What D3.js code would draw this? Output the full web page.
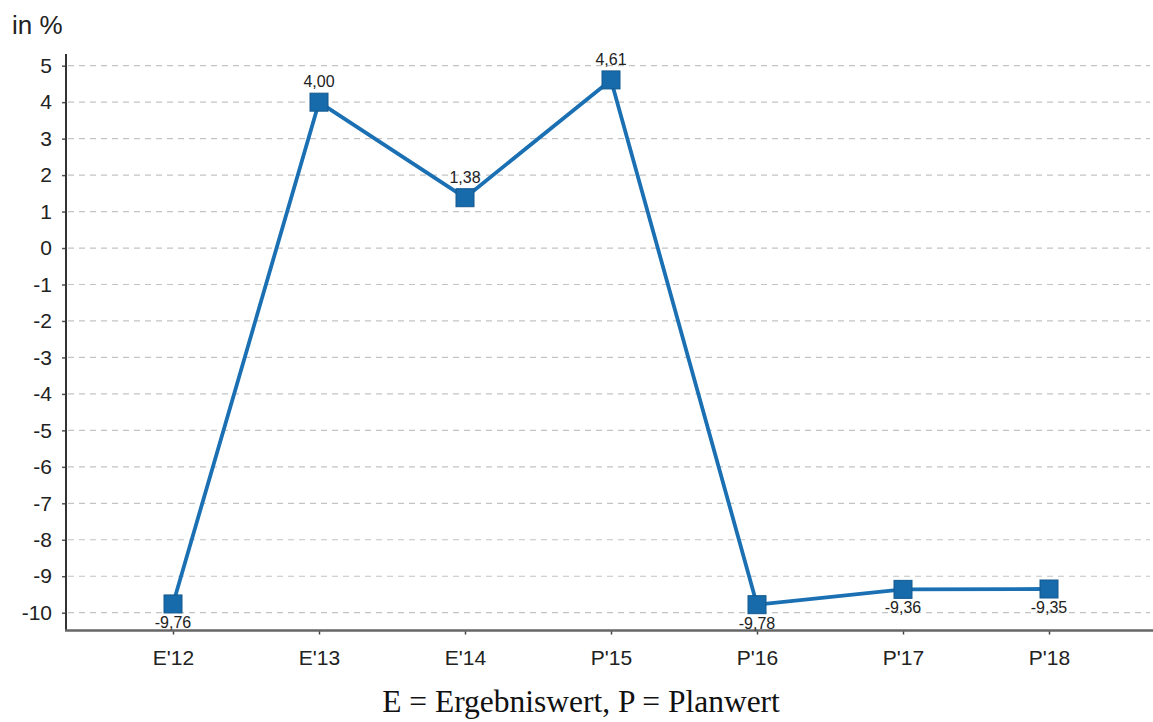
<!DOCTYPE html>
<html>
<head>
<meta charset="utf-8">
<script src="https://cdn.jsdelivr.net/npm/d3@7"></script>
<style>
  html, body { margin: 0; padding: 0; background: #fff; }
  svg { display: block; }
</style>
</head>
<body>
<svg id="chart" width="1153" height="722"></svg>
<script>
// Jahreswerte (E = Ergebniswert, P = Planwert)
const categories = ["E'12", "E'13", "E'14", "P'15", "P'16", "P'17", "P'18"];
const values = [-9.76, 4.00, 1.38, 4.61, -9.78, -9.36, -9.35];
const yTicks = [5, 4, 3, 2, 1, 0, -1, -2, -3, -4, -5, -6, -7, -8, -9, -10];
const yUnit = "in %";
const caption = "E = Ergebniswert, P = Planwert";

const svg = d3.select("#chart");
const axisLeft = 66, axisRight = 1150;
const axisBottomY = 630.5, axisTopY = 54;

const x = d3.scalePoint()
  .domain(categories)
  .range([100, 1122])
  .padding(0.5);

const y = d3.scaleLinear()
  .domain([-10, 5])
  .range([612.7, 65.7]);

// German number format with plain hyphen as minus sign
const fmt = v => d3.format(".2f")(v).replace(".", ",").replace("\u2212", "-");

// horizontal dashed gridlines
svg.append("g")
  .selectAll("line")
  .data(yTicks)
  .join("line")
  .attr("x1", axisLeft + 2).attr("x2", axisRight)
  .attr("y1", d => y(d)).attr("y2", d => y(d))
  .attr("stroke", "#c4c4c4")
  .attr("stroke-width", 1.2)
  .attr("stroke-dasharray", "6,5");

// y axis
const gy = svg.append("g").attr("transform", `translate(${axisLeft},0)`)
  .call(d3.axisLeft(y).tickValues(yTicks).tickSize(4).tickPadding(10)
    .tickFormat(d => String(d)));
gy.select(".domain").remove();
gy.selectAll(".tick line").attr("stroke", "#555").attr("stroke-width", 1.5);
gy.selectAll(".tick text")
  .attr("font-family", "Liberation Sans, Arial, sans-serif")
  .attr("font-size", 21)
  .attr("fill", "#222");
svg.append("line")
  .attr("x1", axisLeft).attr("x2", axisLeft)
  .attr("y1", axisTopY).attr("y2", axisBottomY)
  .attr("stroke", "#333").attr("stroke-width", 2);

// x axis
const gx = svg.append("g").attr("transform", `translate(0,${axisBottomY})`)
  .call(d3.axisBottom(x).tickSize(4).tickPadding(16));
gx.select(".domain").remove();
gx.selectAll(".tick line").attr("stroke", "#444").attr("stroke-width", 1.5);
gx.selectAll(".tick text")
  .attr("font-family", "Liberation Sans, Arial, sans-serif")
  .attr("font-size", 21)
  .attr("fill", "#222");
svg.append("line")
  .attr("x1", axisLeft - 1).attr("x2", axisRight + 3)
  .attr("y1", axisBottomY).attr("y2", axisBottomY)
  .attr("stroke", "#666").attr("stroke-width", 2.5);

// series line
const pts = categories.map((c, i) => ({ c, v: values[i] }));
svg.append("path")
  .datum(pts)
  .attr("fill", "none")
  .attr("stroke", "#1a70b2")
  .attr("stroke-width", 3.8)
  .attr("stroke-linejoin", "round")
  .attr("d", d3.line().x(d => x(d.c)).y(d => y(d.v)));

// square markers
svg.append("g")
  .selectAll("rect")
  .data(pts)
  .join("rect")
  .attr("x", d => x(d.c) - 9)
  .attr("y", d => y(d.v) - 9)
  .attr("width", 18).attr("height", 18)
  .attr("fill", "#176bab")
  .attr("stroke", "#12598f")
  .attr("stroke-width", 1);

// value labels
svg.append("g")
  .selectAll("text")
  .data(pts)
  .join("text")
  .attr("x", d => x(d.c))
  .attr("y", d => d.v >= 0 ? y(d.v) - 15 : y(d.v) + 24)
  .attr("text-anchor", "middle")
  .attr("font-family", "Liberation Sans, Arial, sans-serif")
  .attr("font-size", 16)
  .attr("fill", "#222")
  .text(d => fmt(d.v));

// unit label
svg.append("text")
  .attr("x", 12).attr("y", 34)
  .attr("font-family", "Liberation Sans, Arial, sans-serif")
  .attr("font-size", 26)
  .attr("fill", "#222")
  .text(yUnit);

// caption
svg.append("text")
  .attr("x", 581).attr("y", 712)
  .attr("text-anchor", "middle")
  .attr("font-family", "Liberation Serif, Times New Roman, serif")
  .attr("font-size", 31.5)
  .attr("fill", "#111")
  .text(caption);
</script>
</body>
</html>
